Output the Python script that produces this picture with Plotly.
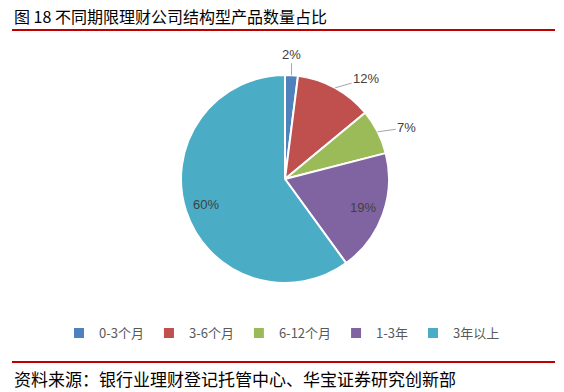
import math
import plotly.graph_objects as go

categories = ["0-3个月", "3-6个月", "6-12个月", "1-3年", "3年以上"]
values = [2, 12, 7, 19, 60]
colors = ["#4F81BD", "#C0504D", "#9BBB59", "#8064A2", "#4BACC6"]

title_text = "图 18 不同期限理财公司结构型产品数量占比"
source_text = "资料来源：银行业理财登记托管中心、华宝证券研究创新部"

# label style: "out" = outside with leader line (pixel offsets), "in" = inside at 0.8 radius
label_modes = ["out", "out", "out", "in", "in"]
label_offsets = [(0, -21), (31, -9), (29, -4), (0, 0), (0, 0)]

W, H = 564, 392
font_cjk = "Noto Sans CJK SC"
CX, CY, R = 285, 179, 104  # pie centre and radius in pixels

fig = go.Figure()
fig.add_trace(go.Pie(
    labels=categories,
    values=values,
    sort=False,
    direction="clockwise",
    rotation=0,
    marker=dict(colors=colors, line=dict(color="white", width=2)),
    textinfo="none",
    domain=dict(x=[(CX - R) / W, (CX + R) / W], y=[(H - CY - R) / H, (H - CY + R) / H]),
    hoverinfo="label+percent",
))

# percentage labels derived from the values
total = sum(values)
annotations = []
cum = 0
for v, mode, (ox, oy) in zip(values, label_modes, label_offsets):
    mid = (cum + v / 2) / total * 2 * math.pi
    cum += v
    pct = f"{round(v / total * 100)}%"
    lbl_font = dict(size=13, color="#404040", family="Liberation Sans")
    if mode == "out":
        px = CX + R * math.sin(mid)
        py = CY - R * math.cos(mid)
        annotations.append(dict(
            text=pct, xref="paper", yref="paper",
            x=px / W, y=(H - py) / H, ax=ox, ay=oy,
            showarrow=True, arrowhead=0, arrowwidth=1, arrowcolor="#A6A6A6",
            standoff=0, startstandoff=0, font=lbl_font,
        ))
    else:
        px = CX + 0.8 * R * math.sin(mid)
        py = CY - 0.8 * R * math.cos(mid)
        annotations.append(dict(
            text=pct, xref="paper", yref="paper",
            x=px / W, y=(H - py) / H, xanchor="center", yanchor="middle",
            showarrow=False, font=lbl_font,
        ))

annotations += [
    dict(text=title_text, xref="paper", yref="paper",
         x=12 / W, y=(H - 16) / H, xanchor="left", yanchor="middle",
         showarrow=False, font=dict(size=16, color="#000000", family=font_cjk)),
    dict(text=source_text, xref="paper", yref="paper",
         x=12 / W, y=(H - 378) / H, xanchor="left", yanchor="middle",
         showarrow=False, font=dict(size=17, color="#000000", family=font_cjk)),
]

fig.update_layout(
    width=W, height=H,
    margin=dict(l=0, r=0, t=0, b=0),
    paper_bgcolor="white",
    plot_bgcolor="white",
    showlegend=True,
    legend=dict(
        orientation="h",
        x=0.5, xanchor="center",
        y=(H - 333) / H, yanchor="middle",
        font=dict(size=13, color="#595959", family=font_cjk),
        itemwidth=30,
        traceorder="normal",
    ),
    shapes=[
        dict(type="line", xref="paper", yref="paper",
             x0=12 / W, x1=555 / W, y0=(H - 30) / H, y1=(H - 30) / H,
             line=dict(color="#C00000", width=2)),
        dict(type="line", xref="paper", yref="paper",
             x0=12 / W, x1=555 / W, y0=(H - 362) / H, y1=(H - 362) / H,
             line=dict(color="#C00000", width=2)),
    ],
    annotations=annotations,
)

fig.write_html("out.html", config={"displayModeBar": False})

# remove the default page margin so the figure fills the window exactly
with open("out.html", encoding="utf-8") as f:
    html = f.read()
html = html.replace("<head>", "<head><style>html,body{margin:0;padding:0;overflow:hidden;}</style>", 1)
with open("out.html", "w", encoding="utf-8") as f:
    f.write(html)
